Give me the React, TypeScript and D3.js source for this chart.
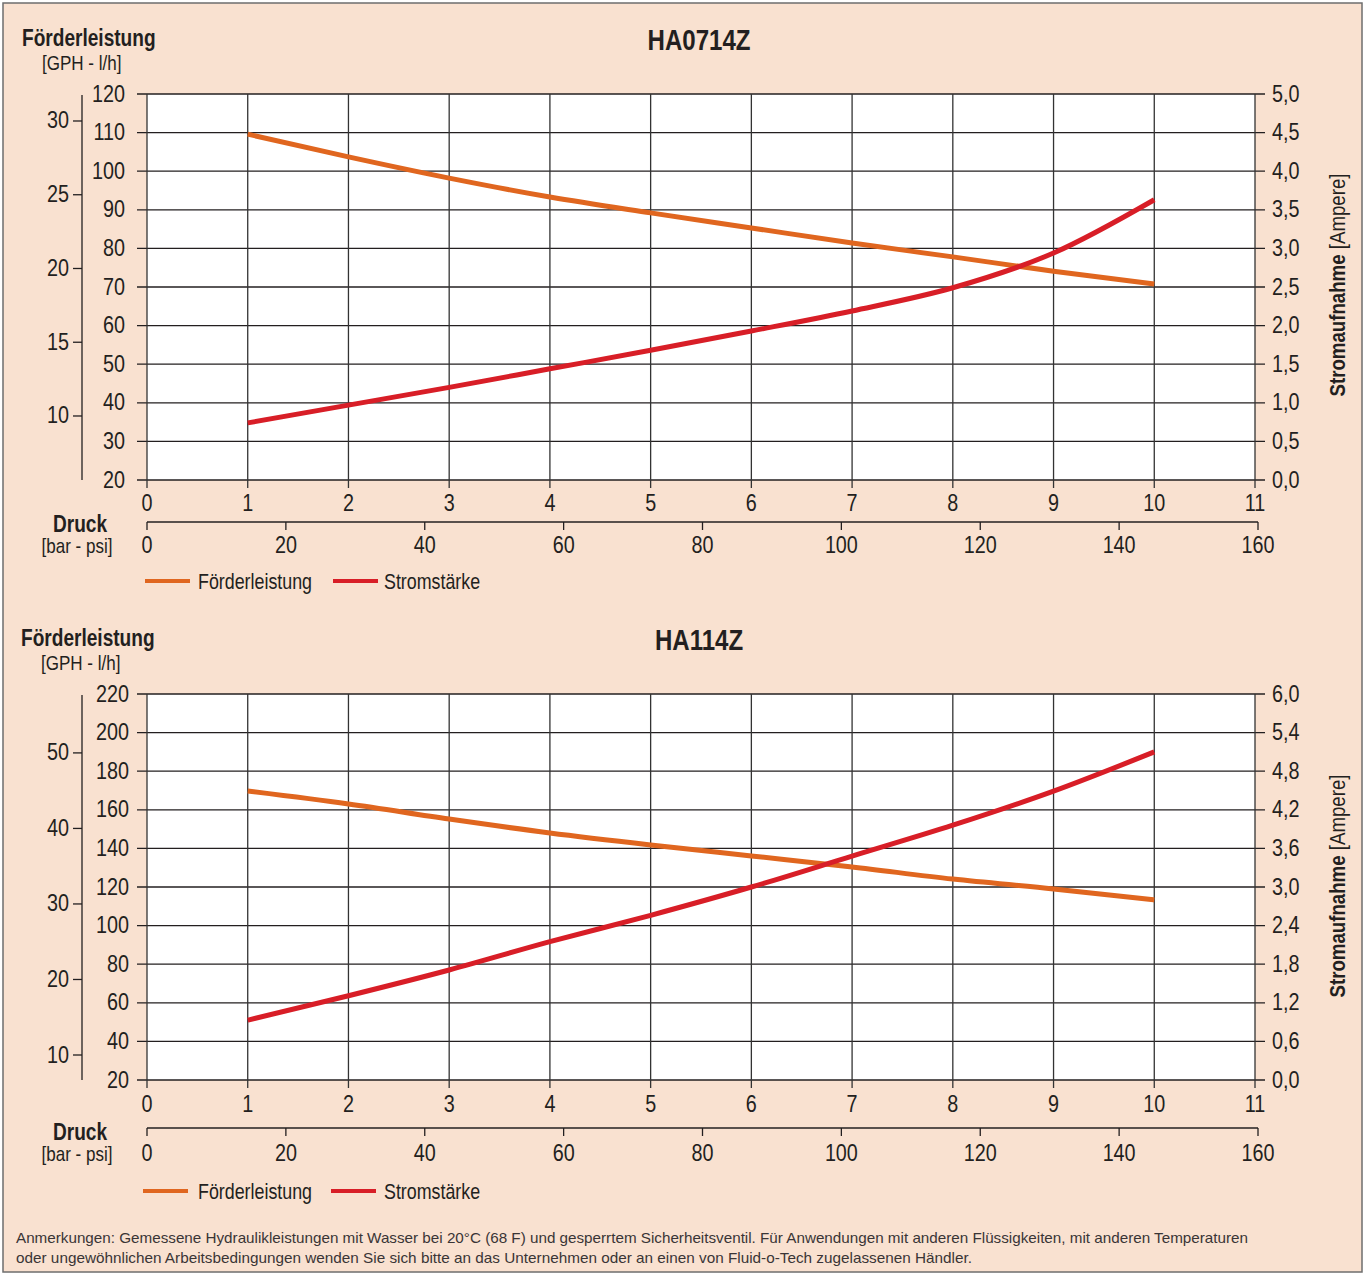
import React, { useEffect, useRef } from 'react';
import * as d3 from 'd3';

// pressure in bar, curve points
const BAR = [1, 2, 3, 4, 5, 6, 7, 8, 9, 10];
const TOP_FLOW = [109.6, 103.7, 98.2, 93.3, 89.2, 85.3, 81.4, 77.8, 74.1, 70.8];
const TOP_AMP = [0.74, 0.97, 1.2, 1.44, 1.68, 1.93, 2.19, 2.49, 2.94, 3.63];
const BOT_FLOW = [169.7, 163.0, 155.2, 148.0, 141.8, 136.1, 130.4, 124.1, 119.0, 113.3];
const BOT_AMP = [0.93, 1.31, 1.71, 2.15, 2.56, 3.0, 3.48, 3.96, 4.49, 5.1];

const BAR_TICKS = [0, 1, 2, 3, 4, 5, 6, 7, 8, 9, 10, 11];
const PSI_TICKS = [0, 20, 40, 60, 80, 100, 120, 140, 160];
const TOP_LH_TICKS = [20, 30, 40, 50, 60, 70, 80, 90, 100, 110, 120];
const TOP_AMP_TICKS = [0, 0.5, 1, 1.5, 2, 2.5, 3, 3.5, 4, 4.5, 5];
const TOP_GPH_TICKS = [10, 15, 20, 25, 30];
const BOT_LH_TICKS = [20, 40, 60, 80, 100, 120, 140, 160, 180, 200, 220];
const BOT_AMP_TICKS = [0, 0.6, 1.2, 1.8, 2.4, 3, 3.6, 4.2, 4.8, 5.4, 6];
const BOT_GPH_TICKS = [10, 20, 30, 40, 50];

const NOTE_1 = 'Anmerkungen: Gemessene Hydraulikleistungen mit Wasser bei 20°C (68 F) und gesperrtem Sicherheitsventil. Für Anwendungen mit anderen Flüssigkeiten, mit anderen Temperaturen';
const NOTE_2 = 'oder ungewöhnlichen Arbeitsbedingungen wenden Sie sich bitte an das Unternehmen oder an einen von Fluid-o-Tech zugelassenen Händler.';

// no condensed font installed: Liberation Sans squeezed horizontally
const FONT = '"Liberation Sans", Arial, sans-serif';
const SX = 0.83;
const SX_NUM = 0.86;
const INK = '#231f20';
const ORANGE = '#e0661f';
const RED = '#d81e27';
const BG = '#f9e1d0';

const panels = [
  {
    title: 'HA0714Z', top: 94, bottom: 480, flow: TOP_FLOW, amp: TOP_AMP,
    lhTicks: TOP_LH_TICKS, ampTicks: TOP_AMP_TICKS, gphTicks: TOP_GPH_TICKS,
    lhDomain: [20, 120], ampDomain: [0, 5], gphDomain: [5.66, 31.83],
    titleY: 40, headY: 38, unitY: 63, headX: 22, unitX: 42, lhLabelEnd: 125,
    barLabelY: 503, psiY: 522, psiLabelY: 545, druckY: 524, barPsiY: 546,
    legendY: 581, legX: 145, ampTitleY: 285,
  },
  {
    title: 'HA114Z', top: 694, bottom: 1080, flow: BOT_FLOW, amp: BOT_AMP,
    lhTicks: BOT_LH_TICKS, ampTicks: BOT_AMP_TICKS, gphTicks: BOT_GPH_TICKS,
    lhDomain: [20, 220], ampDomain: [0, 6], gphDomain: [6.69, 57.8],
    titleY: 640, headY: 638, unitY: 663, headX: 21, unitX: 41, lhLabelEnd: 129,
    barLabelY: 1104, psiY: 1128, psiLabelY: 1153, druckY: 1132, barPsiY: 1154,
    legendY: 1191, legX: 143, ampTitleY: 886,
  },
];

const comma = (v: number) => d3.format('.1f')(v).replace('.', ',');
const tr = (x: number, y: number, sx = SX) => `translate(${x},${y}) scale(${sx},1)`;

type G = d3.Selection<SVGGElement, unknown, null, undefined>;

function label(g: G, x: number, y: number, str: string, size: number, opts: { bold?: boolean; anchor?: string } = {}) {
  return g.append('text')
    .attr('transform', tr(x, y))
    .attr('text-anchor', opts.anchor || 'start')
    .attr('dominant-baseline', 'central')
    .attr('font-size', size)
    .attr('font-weight', opts.bold ? 'bold' : 'normal')
    .text(str);
}

export default function App() {
  const svgRef = useRef<SVGSVGElement>(null);

  useEffect(() => {
    if (!svgRef.current) return;
    const svg = d3.select(svgRef.current);
    svg.selectAll('*').remove();

    svg.append('rect')
      .attr('x', 3).attr('y', 3).attr('width', 1359).attr('height', 1269)
      .attr('fill', BG).attr('stroke', '#6e6e6e').attr('stroke-width', 1.5);

    const left = 147;
    const right = 1255;
    const x = d3.scaleLinear().domain([0, 11]).range([left, right]);
    const psi = d3.scaleLinear().domain([0, 160]).range([left, 1258]);

    panels.forEach(p => {
      const g: G = svg.append('g').attr('font-family', FONT).attr('fill', INK) as any;
      const yL = d3.scaleLinear().domain(p.lhDomain).range([p.bottom, p.top]);
      const yA = d3.scaleLinear().domain(p.ampDomain).range([p.bottom, p.top]);
      const yG = d3.scaleLinear().domain(p.gphDomain).range([p.bottom, p.top]);

      // plot area
      g.append('rect')
        .attr('x', left).attr('y', p.top)
        .attr('width', right - left).attr('height', p.bottom - p.top)
        .attr('fill', '#fff');

      // grid
      g.selectAll('.hg').data(p.lhTicks).enter().append('line')
        .attr('x1', left - 10).attr('x2', right + 10)
        .attr('y1', d => yL(d)).attr('y2', d => yL(d))
        .attr('stroke', INK).attr('stroke-width', 1.3);
      g.selectAll('.vg').data(BAR_TICKS).enter().append('line')
        .attr('x1', d => x(d)).attr('x2', d => x(d))
        .attr('y1', p.top).attr('y2', p.bottom + 8)
        .attr('stroke', '#333').attr('stroke-width', 1.3);

      // l/h labels
      g.selectAll('.lh').data(p.lhTicks).enter().append('text')
        .attr('transform', d => tr(p.lhLabelEnd, yL(d), SX_NUM))
        .attr('text-anchor', 'end').attr('dominant-baseline', 'central')
        .attr('font-size', 23).text(d => d);

      // amp labels
      g.selectAll('.am').data(p.ampTicks).enter().append('text')
        .attr('transform', d => tr(1272, yA(d), SX_NUM))
        .attr('dominant-baseline', 'central')
        .attr('font-size', 23).text(d => comma(d));

      // GPH axis
      g.append('line')
        .attr('x1', 82).attr('x2', 82)
        .attr('y1', p.top + 1).attr('y2', p.bottom)
        .attr('stroke', INK).attr('stroke-width', 1.3);
      g.selectAll('.gt').data(p.gphTicks).enter().append('line')
        .attr('x1', 73).attr('x2', 82)
        .attr('y1', d => yG(d)).attr('y2', d => yG(d))
        .attr('stroke', INK).attr('stroke-width', 1.3);
      g.selectAll('.gl').data(p.gphTicks).enter().append('text')
        .attr('transform', d => tr(69, yG(d), SX_NUM))
        .attr('text-anchor', 'end').attr('dominant-baseline', 'central')
        .attr('font-size', 23).text(d => d);

      // bar labels
      g.selectAll('.bl').data(BAR_TICKS).enter().append('text')
        .attr('transform', d => tr(x(d), p.barLabelY, SX_NUM))
        .attr('text-anchor', 'middle').attr('dominant-baseline', 'central')
        .attr('font-size', 23).text(d => d);

      // psi axis
      g.append('line')
        .attr('x1', psi(0)).attr('x2', psi(160))
        .attr('y1', p.psiY).attr('y2', p.psiY)
        .attr('stroke', INK).attr('stroke-width', 1.3);
      g.selectAll('.pt').data(PSI_TICKS).enter().append('line')
        .attr('x1', d => psi(d)).attr('x2', d => psi(d))
        .attr('y1', p.psiY).attr('y2', p.psiY + 8)
        .attr('stroke', INK).attr('stroke-width', 1.3);
      g.selectAll('.pl').data(PSI_TICKS).enter().append('text')
        .attr('transform', d => tr(psi(d), p.psiLabelY, SX_NUM))
        .attr('text-anchor', 'middle').attr('dominant-baseline', 'central')
        .attr('font-size', 23).text(d => d);

      // curves
      const flowLine = d3.line<number>()
        .x((_, i) => x(BAR[i])).y(d => yL(d)).curve(d3.curveMonotoneX);
      const ampLine = d3.line<number>()
        .x((_, i) => x(BAR[i])).y(d => yA(d)).curve(d3.curveMonotoneX);
      g.append('path').attr('d', flowLine(p.flow))
        .attr('fill', 'none').attr('stroke', ORANGE).attr('stroke-width', 5);
      g.append('path').attr('d', ampLine(p.amp))
        .attr('fill', 'none').attr('stroke', RED).attr('stroke-width', 5);

      // texts
      label(g, 699, p.titleY, p.title, 29, { bold: true, anchor: 'middle' });
      label(g, p.headX, p.headY, 'Förderleistung', 23, { bold: true });
      label(g, p.unitX, p.unitY, '[GPH - l/h]', 20.5);
      label(g, 80, p.druckY, 'Druck', 23, { bold: true, anchor: 'middle' });
      label(g, 77, p.barPsiY, '[bar - psi]', 20.5, { anchor: 'middle' });

      const at = g.append('text')
        .attr('transform', `translate(1336,${p.ampTitleY}) rotate(-90) scale(${SX},1)`)
        .attr('text-anchor', 'middle').attr('dominant-baseline', 'central')
        .attr('font-size', 22.5);
      at.append('tspan').attr('font-weight', 'bold').text('Stromaufnahme ');
      at.append('tspan').text('[Ampere]');

      // legend
      const legend = [
        { name: 'Förderleistung', color: ORANGE, x0: p.legX, tx: 198 },
        { name: 'Stromstärke', color: RED, x0: p.legX + 188, tx: 384 },
      ];
      legend.forEach(l => {
        g.append('line')
          .attr('x1', l.x0).attr('x2', l.x0 + 45)
          .attr('y1', p.legendY).attr('y2', p.legendY)
          .attr('stroke', l.color).attr('stroke-width', 4);
        label(g, l.tx, p.legendY, l.name, 21.5);
      });
    });

    // footnote
    const notes = svg.append('g').attr('font-family', FONT)
      .attr('fill', '#3a3536').attr('font-size', 14.5);
    notes.append('text').attr('x', 16).attr('y', 1243)
      .attr('textLength', 1232).attr('lengthAdjust', 'spacingAndGlyphs').text(NOTE_1);
    notes.append('text').attr('x', 16).attr('y', 1263)
      .attr('textLength', 956).attr('lengthAdjust', 'spacingAndGlyphs').text(NOTE_2);
  }, []);

  return (
    <svg
      ref={svgRef}
      width={1365}
      height={1275}
      viewBox="0 0 1365 1275"
      style={{ position: 'absolute', left: 0, top: 0, background: '#fff' }}
    />
  );
}
